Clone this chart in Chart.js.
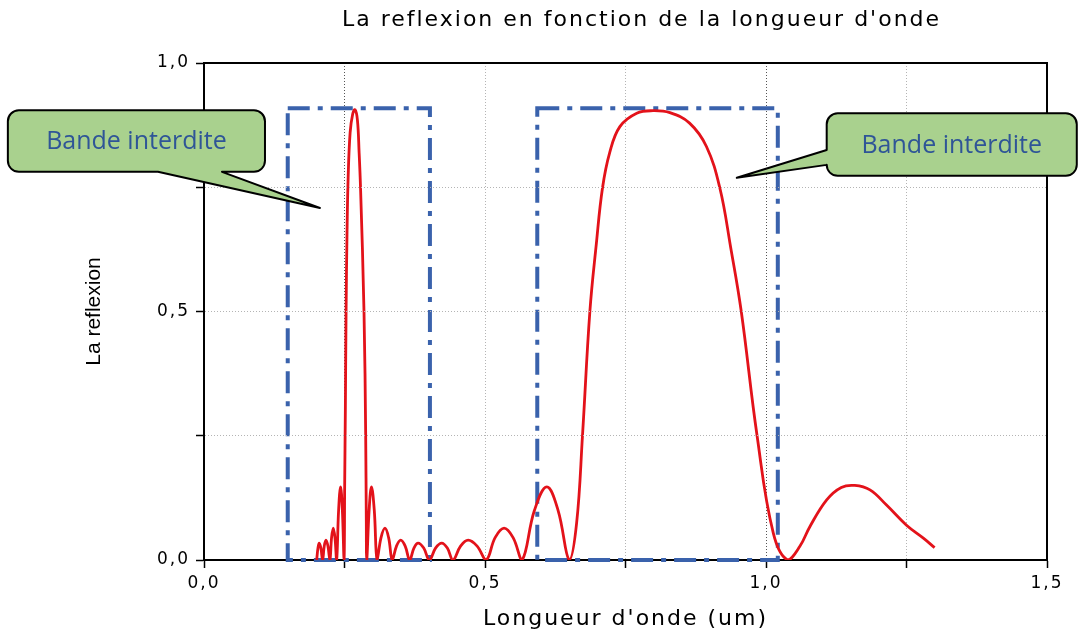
<!DOCTYPE html>
<html>
<head>
<meta charset="utf-8">
<script src="https://cdn.jsdelivr.net/npm/chart.js@4.4.1/dist/chart.umd.min.js"></script>
<style>
  html, body { margin: 0; padding: 0; background: #fff; }
</style>
</head>
<body>
<canvas id="reflexionChart" width="1080" height="639"></canvas>
<script>
// Valeurs (longueur d'onde en um, reflexion)
const longueurOnde = [
  0.2005, 0.2028, 0.2050, 0.2080, 0.2110, 0.2140, 0.2170, 0.2205, 0.2240, 0.2270,
  0.2300, 0.2330, 0.2360, 0.2395, 0.2430, 0.2462, 0.2492,
  0.2503, 0.2515, 0.2528, 0.2545, 0.2565, 0.2600, 0.2645, 0.2687, 0.2730, 0.2760,
  0.2785, 0.2847, 0.2877, 0.2888, 0.2896,
  0.2938, 0.2980, 0.3030, 0.3080, 0.3150, 0.3220, 0.3285, 0.3350, 0.3425, 0.3500,
  0.3580, 0.3660, 0.3735, 0.3810, 0.3910, 0.4010, 0.4120, 0.4230, 0.4330, 0.4430,
  0.4565, 0.4700, 0.4860, 0.5020, 0.5180, 0.5340, 0.5500, 0.5660, 0.5880, 0.6100,
  0.6300, 0.6500,
  0.6630, 0.6735, 0.6866, 0.6980, 0.7090, 0.7220, 0.7400, 0.7700, 0.7990, 0.8290,
  0.8640, 0.8940, 0.9180, 0.9370, 0.9560, 0.9840, 1.0130, 1.0385,
  1.0600, 1.0780, 1.1080, 1.1340, 1.1580, 1.1850, 1.2140, 1.2500, 1.2800, 1.3000
];
const reflexion = [
  0.000, 0.024, 0.034, 0.024, 0.000, 0.028, 0.040, 0.028, 0.000, 0.045,
  0.064, 0.045, 0.000, 0.100, 0.147, 0.100, 0.000,
  0.150, 0.300, 0.500, 0.660, 0.770, 0.860, 0.897, 0.906, 0.885, 0.820,
  0.750, 0.500, 0.250, 0.080, 0.000,
  0.100, 0.147, 0.100, 0.000, 0.045, 0.064, 0.045, 0.000, 0.028, 0.040,
  0.028, 0.000, 0.024, 0.034, 0.024, 0.000, 0.024, 0.034, 0.024, 0.000,
  0.028, 0.040, 0.028, 0.000, 0.045, 0.064, 0.045, 0.000, 0.100, 0.147,
  0.100, 0.000,
  0.074, 0.251, 0.500, 0.635, 0.748, 0.820, 0.872, 0.899, 0.904, 0.900,
  0.879, 0.832, 0.748, 0.630, 0.500, 0.251, 0.054, 0.000,
  0.027, 0.067, 0.121, 0.146, 0.150, 0.141, 0.111, 0.070, 0.044, 0.025
];

const xLabels = [0, 0.5, 1.0, 1.5];
const yLabels = [0, 0.5, 1.0];

// bandes interdites : debut, fin, hauteur du cadre
const bandes = [
  [0.149, 0.402, 0.909],
  [0.593, 1.021, 0.909]
];

// bulles : cadre [gauche, droite, haut, bas], base de la pointe, pointe
const bulles = [
  { texte: 'Bande interdite', cadre: [-0.349, 0.1085, 0.905, 0.781], cote: 'bas', base: [-0.082, 0.032], pointe: [0.2063, 0.7082] },
  { texte: 'Bande interdite', cadre: [1.108, 1.553, 0.899, 0.773], cote: 'gauche', base: [0.825, 0.795], pointe: [0.948, 0.769] }
];

const police = 'DejaVu Sans';
const fmt = v => v.toFixed(1).replace('.', ',');
const isLabel = (list, v) => list.some(t => Math.abs(t - v) < 1e-9);

// couleur des lignes de grille verticales (0,25 et 1,0 plus foncees)
function grilleX(c) {
  if (!c.tick) return 'rgba(0,0,0,0)';
  const v = c.tick.value;
  if (v < 0.001 || v > 1.499) return 'rgba(0,0,0,0)';
  if (Math.abs(v - 0.25) < 1e-9 || Math.abs(v - 1) < 1e-9) return '#555';
  return '#b4b4b4';
}

// espacement des lettres (le texte d'origine est etire en largeur)
const espacement = {
  id: 'espacement',
  afterLayout(chart) {
    // le titre est un peu decale a droite dans l'original
    if (chart.titleBlock) {
      chart.titleBlock.left += 16;
      chart.titleBlock.right += 16;
    }
  },
  beforeDraw(chart) { chart.ctx.letterSpacing = '2px'; },
  afterDatasetsDraw(chart) { chart.ctx.letterSpacing = '0px'; }
};

const cadres = {
  id: 'cadres',
  beforeDatasetsDraw(chart) {
    const { ctx, chartArea: a, scales: { x, y } } = chart;
    ctx.save();
    ctx.strokeStyle = '#000';
    ctx.lineWidth = 2;
    ctx.beginPath();
    ctx.moveTo(a.left, a.top);
    ctx.lineTo(a.right, a.top);
    ctx.lineTo(a.right, a.bottom);
    ctx.stroke();

    ctx.strokeStyle = '#3A62AC';
    ctx.lineWidth = 4;
    ctx.setLineDash([22, 8, 5, 8]);
    bandes.forEach(([x0, x1, h]) => {
      const l = x.getPixelForValue(x0), r = x.getPixelForValue(x1);
      const t = y.getPixelForValue(h), b = y.getPixelForValue(0);
      ctx.strokeRect(l, t, r - l, b - t);
    });
    ctx.restore();
  }
};

function tracerBulle(ctx, l, t, r, b, rad, cote, p1, p2, tip) {
  ctx.beginPath();
  ctx.moveTo(l + rad, t);
  ctx.lineTo(r - rad, t);
  ctx.arcTo(r, t, r, t + rad, rad);
  ctx.lineTo(r, b - rad);
  ctx.arcTo(r, b, r - rad, b, rad);
  if (cote === 'bas') {
    ctx.lineTo(p2, b);
    ctx.lineTo(tip[0], tip[1]);
    ctx.lineTo(p1, b);
  }
  ctx.lineTo(l + rad, b);
  ctx.arcTo(l, b, l, b - rad, rad);
  if (cote === 'gauche') {
    ctx.lineTo(l, p2);
    ctx.lineTo(tip[0], tip[1]);
    ctx.lineTo(l, p1);
  }
  ctx.lineTo(l, t + rad);
  ctx.arcTo(l, t, l + rad, t, rad);
  ctx.closePath();
}

const annotations = {
  id: 'annotations',
  afterDraw(chart) {
    const { ctx, scales: { x, y } } = chart;
    ctx.save();
    ctx.letterSpacing = '0px';
    bulles.forEach(bu => {
      const l = x.getPixelForValue(bu.cadre[0]), r = x.getPixelForValue(bu.cadre[1]);
      const t = y.getPixelForValue(bu.cadre[2]), b = y.getPixelForValue(bu.cadre[3]);
      const tip = [x.getPixelForValue(bu.pointe[0]), y.getPixelForValue(bu.pointe[1])];
      let p1, p2;
      if (bu.cote === 'bas') {
        p1 = x.getPixelForValue(bu.base[0]);
        p2 = x.getPixelForValue(bu.base[1]);
      } else {
        p1 = y.getPixelForValue(bu.base[0]);
        p2 = y.getPixelForValue(bu.base[1]);
      }
      tracerBulle(ctx, l, t, r, b, 11, bu.cote, Math.min(p1, p2), Math.max(p1, p2), tip);
      ctx.fillStyle = '#A9D18E';
      ctx.fill();
      ctx.lineWidth = 2;
      ctx.strokeStyle = '#000';
      ctx.lineJoin = 'round';
      ctx.stroke();

      ctx.fillStyle = '#2F5597';
      ctx.font = '25px "Open Sans"';
      ctx.textAlign = 'center';
      ctx.textBaseline = 'middle';
      ctx.fillText(bu.texte, (l + r) / 2, (t + b) / 2 + 1);
    });
    ctx.restore();
  }
};

const ctx = document.getElementById('reflexionChart').getContext('2d');
const chart = new Chart(ctx, {
  type: 'line',
  data: {
    datasets: [{
      data: longueurOnde.map((v, i) => ({ x: v, y: reflexion[i] })),
      borderColor: '#E3121A',
      borderWidth: 2.8,
      pointRadius: 0,
      fill: false,
      tension: 0.4
    }]
  },
  options: {
    responsive: false,
    devicePixelRatio: 1,
    animation: false,
    layout: { padding: { left: 0, right: 33, top: 0, bottom: 0 } },
    plugins: {
      legend: { display: false },
      tooltip: { enabled: false },
      title: {
        display: true,
        text: "La reflexion en fonction de la longueur d'onde",
        fullSize: false,
        color: '#000',
        font: { family: police, size: 22, weight: 'normal' },
        padding: { top: 7, bottom: 29.6 }
      }
    },
    scales: {
      x: {
        type: 'linear',
        min: 0,
        max: 1.5,
        afterFit(s) { s.height = 79; },
        ticks: {
          stepSize: 0.25,
          autoSkip: false,
          maxRotation: 0,
          padding: 5,
          color: '#000',
          font: { family: police, size: 17 },
          callback: v => isLabel(xLabels, v) ? fmt(v) : ''
        },
        grid: {
          color: grilleX,
          tickColor: '#000',
          tickLength: 8,
          tickWidth: 1.5,
          lineWidth: 1
        },
        border: { display: true, color: '#000', width: 2, dash: [1, 2] },
        title: {
          display: true,
          text: "Longueur d'onde (um)",
          color: '#000',
          font: { family: police, size: 22 },
          padding: { top: 0, bottom: 7 }
        }
      },
      y: {
        type: 'linear',
        min: 0,
        max: 1,
        afterFit(s) { s.width = 204; },
        ticks: {
          stepSize: 0.25,
          autoSkip: false,
          padding: 6,
          color: '#000',
          font: { family: police, size: 17 },
          callback: v => isLabel(yLabels, v) ? fmt(v) : ''
        },
        grid: {
          z: 1,
          color: c => (c.tick && c.tick.value > 0.001 && c.tick.value < 0.999) ? '#b4b4b4' : 'rgba(0,0,0,0)',
          tickColor: '#000',
          tickLength: 8,
          tickWidth: 1.5,
          lineWidth: 1
        },
        border: { display: true, z: 1, color: '#000', width: 2, dash: [1, 2] },
        title: {
          display: true,
          text: 'La reflexion',
          color: '#000',
          font: { family: 'Liberation Sans', size: 21 },
          padding: { top: 82, bottom: 0 }
        }
      }
    }
  },
  plugins: [espacement, cadres, annotations]
});
</script>
</body>
</html>
